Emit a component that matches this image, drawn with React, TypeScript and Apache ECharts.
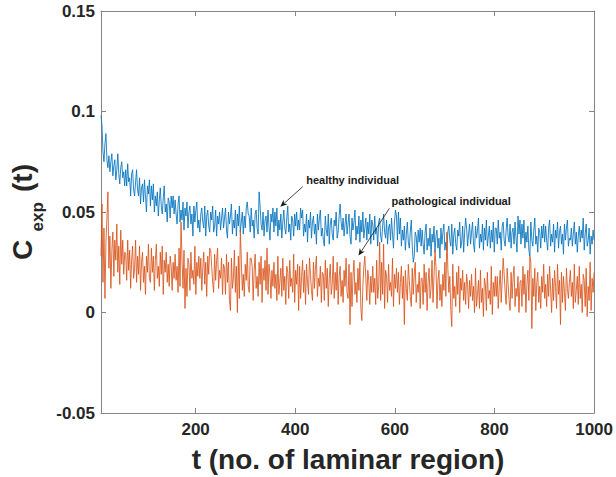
import React, { useEffect, useRef } from "react";
import * as echarts from "echarts";

// sample index range (t) and axis ticks
const T_FIRST = 10;
const T_LAST = 1000;
const X_TICKS = [200, 400, 600, 800, 1000];
const Y_MIN = -0.05;
const Y_MAX = 0.15;
const Y_STEP = 0.05;

// values are stored in units of 1e-3
const VALUE_UNIT = 0.001;

const healthyE3 = [
  98, 93, 80, 75, 84, 89, 76, 72, 78, 70, 75, 79, 68, 73, 76, 66, 71, 79, 69, 64, 72, 75, 67, 70, 63,
  71, 63, 74, 65, 67, 58, 69, 71, 61, 58, 65, 71, 61, 58, 67, 54, 62, 64, 55, 66, 58, 50, 63, 59, 66,
  53, 63, 56, 64, 50, 58, 53, 60, 48, 56, 62, 53, 49, 57, 63, 50, 54, 45, 57, 55, 47, 58, 52, 58, 49,
  56, 49, 44, 54, 58, 45, 51, 46, 55, 41, 52, 48, 55, 42, 50, 53, 44, 49, 38, 53, 45, 51, 55, 42, 46,
  40, 49, 52, 45, 42, 53, 38, 48, 51, 43, 40, 50, 46, 53, 40, 43, 51, 38, 48, 44, 50, 41, 47, 52, 42,
  47, 52, 41, 37, 50, 44, 48, 54, 39, 46, 42, 51, 38, 49, 43, 53, 40, 45, 50, 39, 48, 42, 52, 55, 49,
  48, 40, 52, 43, 46, 37, 49, 51, 42, 39, 60, 53, 44, 41, 50, 38, 46, 48, 40, 51, 43, 36, 49, 45, 52,
  40, 50, 43, 52, 38, 46, 41, 49, 37, 45, 51, 42, 39, 47, 53, 40, 44, 36, 48, 46, 38, 49, 43, 50, 41,
  46, 41, 52, 47, 51, 38, 44, 40, 49, 35, 46, 42, 50, 37, 45, 48, 39, 44, 34, 49, 41, 47, 51, 38, 42,
  36, 33, 48, 41, 38, 49, 34, 44, 47, 39, 36, 46, 43, 50, 37, 40, 48, 54, 45, 41, 47, 38, 44, 49, 39,
  44, 49, 38, 34, 47, 41, 45, 51, 36, 43, 39, 48, 35, 46, 40, 50, 37, 42, 47, 36, 45, 39, 49, 34, 46,
  44, 36, 48, 39, 42, 33, 45, 47, 38, 35, 43, 49, 40, 37, 46, 34, 42, 44, 36, 47, 39, 32, 45, 51, 48,
  36, 50, 39, 47, 33, 41, 36, 43, 31, 39, 45, 35, 32, 40, 46, 33, 25, 28, 40, 38, 30, 41, 35, 42, 33,
  41, 34, 29, 40, 44, 31, 37, 33, 42, 28, 39, 35, 43, 30, 38, 41, 32, 37, 27, 42, 34, 40, 44, 31, 35,
  31, 40, 43, 36, 33, 44, 29, 39, 42, 34, 31, 41, 38, 45, 32, 35, 43, 30, 40, 47, 42, 33, 39, 44, 34,
  40, 45, 34, 30, 43, 37, 41, 47, 32, 39, 35, 44, 31, 42, 36, 46, 33, 38, 43, 32, 41, 35, 45, 30, 42,
  42, 34, 46, 37, 40, 31, 43, 45, 36, 33, 41, 47, 38, 35, 44, 32, 40, 42, 34, 45, 37, 30, 48, 39, 46,
  34, 44, 37, 46, 32, 40, 35, 43, 31, 28, 45, 36, 33, 41, 47, 34, 38, 30, 42, 40, 32, 43, 37, 44, 35,
  43, 36, 31, 42, 46, 33, 39, 35, 44, 30, 41, 37, 45, 32, 40, 43, 34, 39, 29, 44, 36, 42, 46, 33, 37,
  36, 42, 33, 39, 45, 34, 40, 30, 38, 43, 35, 41, 37, 47, 31, 39, 44, 33, 36, 42, 29, 38, 34, 41, 36,
];

const pathologicalE3 = [
  28, 54, 15, 42, 7, 35, 47, 60, 22, 38, 12, 31, 40, 18, 36, 26, 44, 20, 33, 14, 41, 24, 36, 19, 30,
  29, 16, 36, 21, 31, 12, 26, 33, 17, 22, 36, 15, 28, 19, 33, 11, 25, 30, 15, 23, 9, 28, 20, 34, 17,
  15, 32, 20, 28, 11, 26, 34, 17, 23, 13, 30, 19, 33, 9, 26, 20, 30, 15, 24, 13, 28, 23, 11, 25, 17,
  29, 16, 23, 10, 32, 13, 45, 26, 12, 31, 2, 22, 8, 27, 24, 11, 30, 17, 21, 14, 33, 9, 25, 18, 28,
  17, 27, 11, 22, 30, 14, 25, 8, 28, 19, 32, 31, 23, 15, 10, 29, 16, 26, 32, 12, 21, 17, 27, 9, 24,
  22, 9, 29, 15, 25, 6, 1, 27, 12, 17, 31, 10, 23, 0, 28, 7, 41, 26, 11, 19, 8, 24, 16, 30, 13,
  10, 27, 27, 23, 6, 21, 29, 12, 18, 8, 25, 14, 28, 5, 22, 16, 26, 11, 32, 9, 24, 19, 7, 21, 13,
  25, 12, 19, 6, 28, 9, 15, 22, 8, 27, 11, 18, 4, 23, 20, 7, 26, 13, 17, 10, 29, 5, 21, 14, 24,
  1, 23, 7, 18, 26, 10, 21, 4, 24, 15, 9, 27, 19, 11, 6, 25, 12, 22, 28, 8, 17, 13, 23, 5, 20,
  19, 6, 26, 12, 22, 3, 17, 24, 9, 14, 28, 7, 20, 11, 25, 4, 18, 23, 8, 16, 5, 21, 13, 27, 10,
  7, 24, -6, 20, 3, 18, 26, 9, 15, 5, 22, 11, 25, 2, -4, 13, 23, 28, 17, 6, 21, 16, 4, 18, 10,
  23, 10, 17, 4, 26, 7, 13, 35, 6, 25, 9, 34, 2, 21, 18, 5, 24, 11, 15, 8, 27, 3, 19, 12, 22,
  10, 20, 4, 15, 23, 7, 18, -6, 21, 12, 6, 24, 16, 8, 3, 22, 9, 19, 25, 5, 14, 10, 20, 2, 17,
  17, 4, 24, 10, 20, 1, 15, 22, 7, 12, 26, 5, 18, 31, 23, 2, 16, 21, 6, 14, 3, 19, 11, 25, 8,
  40, 22, 10, 18, 1, -7, 24, 7, 13, 3, 20, 9, 23, 0, 17, 11, 21, 6, 15, 4, 19, 14, 2, 16, 8,
  19, 6, 13, 0, 22, 3, 9, 16, 2, 21, 5, 12, -2, 17, 14, 1, 20, 7, 11, 4, 23, -1, 15, 8, 18,
  8, 18, 2, 13, 21, 5, 16, 27, 19, 10, 4, 22, 14, 6, 1, 20, 7, 17, 23, 3, 12, 8, 18, 0, 15,
  16, 3, 23, 9, 19, 0, 14, 21, 6, 28, 25, -8, 17, 8, 22, 1, 15, 20, 5, 13, 2, 18, 10, 24, 7,
  14, 3, 19, 8, 23, 11, 0, 17, 6, 21, 13, 2, 24, 9, 16, -6, 20, 5, 18, 10, 1, 22, 12, 7, 15,
  21, 8, 15, 2, 24, 5, 11, 18, 4, 23, 7, 14, 0, 19, 16, 3, 22, -2, 13, 6, 25, 1, 17, 10, 20,
];

// annotations, anchored in data coordinates [t, value]
const annotationLabels = ["healthy individual", "pathological individual"];
const annotationTextAt = [[422, 0.0658], [593.5, 0.0554]];
const annotationArrowFrom = [[415, 0.0626], [589, 0.0518]];
const annotationArrowTo = [[370, 0.0526], [527, 0.0283]];

const FONT = '"Liberation Sans", Arial, Helvetica, sans-serif';
const TEXT_COLOR = "#262626";
const AXIS_COLOR = "#858585";

function toPairs(vals: number[]) {
  const n = vals.length;
  const step = (T_LAST - T_FIRST) / (n - 1);
  return vals.map((v, i) => [T_FIRST + i * step, v * VALUE_UNIT]);
}

export default function App() {
  const ref = useRef<HTMLDivElement>(null);

  useEffect(() => {
    const chart = echarts.init(ref.current!, null, { renderer: "svg" });
    const axisLine = { show: true, onZero: false, lineStyle: { color: AXIS_COLOR, width: 1 } };
    const tickStyle = { color: AXIS_COLOR, width: 1 };
    const labelStyle = { color: TEXT_COLOR, fontSize: 17, fontWeight: "bold" as const, fontFamily: FONT };

    chart.setOption({
      animation: false,
      backgroundColor: "#ffffff",
      grid: { left: 101, right: 21, top: 11, bottom: 64 },
      xAxis: [
        {
          type: "value",
          min: T_FIRST,
          max: T_LAST,
          position: "bottom",
          axisLine,
          axisTick: { show: true, inside: true, length: 5, lineStyle: tickStyle, customValues: X_TICKS },
          axisLabel: { ...labelStyle, margin: 8, customValues: X_TICKS, formatter: (v: number) => String(v) },
          splitLine: { show: false },
        },
        {
          type: "value",
          min: T_FIRST,
          max: T_LAST,
          position: "top",
          axisLine,
          axisTick: { show: true, inside: true, length: 5, lineStyle: tickStyle, customValues: X_TICKS },
          axisLabel: { show: false },
          splitLine: { show: false },
        },
      ],
      yAxis: [
        {
          type: "value",
          min: Y_MIN,
          max: Y_MAX,
          interval: Y_STEP,
          position: "left",
          axisLine,
          axisTick: { show: true, inside: true, length: 5, lineStyle: tickStyle },
          axisLabel: {
            ...labelStyle,
            margin: 6,
            formatter: (v: number) => String(parseFloat(v.toFixed(3))),
          },
          splitLine: { show: false },
        },
        {
          type: "value",
          min: Y_MIN,
          max: Y_MAX,
          interval: Y_STEP,
          position: "right",
          axisLine,
          axisTick: { show: true, inside: true, length: 5, lineStyle: tickStyle },
          axisLabel: { show: false },
          splitLine: { show: false },
        },
      ],
      series: [
        {
          name: "healthy individual",
          type: "line",
          xAxisIndex: 0,
          yAxisIndex: 0,
          data: toPairs(healthyE3),
          showSymbol: false,
          lineStyle: { color: "#0072BD", width: 0.85 },
          itemStyle: { color: "#0072BD" },
        },
        {
          name: "pathological individual",
          type: "line",
          xAxisIndex: 0,
          yAxisIndex: 0,
          data: toPairs(pathologicalE3),
          showSymbol: false,
          lineStyle: { color: "#D95319", width: 0.85 },
          itemStyle: { color: "#D95319" },
        },
      ],
    });

    const px = (p: number[]) => chart.convertToPixel({ xAxisIndex: 0, yAxisIndex: 0 }, p) as number[];
    const graphics: any[] = [];

    annotationLabels.forEach((label, i) => {
      const tp = px(annotationTextAt[i]);
      const a = px(annotationArrowFrom[i]);
      const b = px(annotationArrowTo[i]);
      const dx = b[0] - a[0];
      const dy = b[1] - a[1];
      const len = Math.hypot(dx, dy);
      const ux = dx / len;
      const uy = dy / len;
      const nx = -uy;
      const ny = ux;
      const hl = 7;
      const hw = 3;
      graphics.push({
        type: "text",
        x: tp[0],
        y: tp[1],
        style: {
          text: label,
          font: `bold 11px ${FONT}`,
          fill: "#1a1a1a",
          textAlign: "left",
          textVerticalAlign: "middle",
          align: "left",
          verticalAlign: "middle",
        },
        z: 100,
      });
      graphics.push({
        type: "line",
        shape: { x1: a[0], y1: a[1], x2: b[0] - ux * 4, y2: b[1] - uy * 4 },
        style: { stroke: "#1a1a1a", lineWidth: 0.8 },
        z: 100,
      });
      graphics.push({
        type: "polygon",
        shape: {
          points: [
            [b[0], b[1]],
            [b[0] - ux * hl + nx * hw, b[1] - uy * hl + ny * hw],
            [b[0] - ux * (hl - 2), b[1] - uy * (hl - 2)],
            [b[0] - ux * hl - nx * hw, b[1] - uy * hl - ny * hw],
          ],
        },
        style: { fill: "#1a1a1a" },
        z: 100,
      });
    });

    // axis titles
    const bigFont = `bold 28px ${FONT}`;
    graphics.push({
      type: "text",
      x: 348,
      y: 459,
      style: {
        text: "t (no. of laminar region)",
        font: bigFont,
        fill: TEXT_COLOR,
        textAlign: "center",
        textVerticalAlign: "middle",
        align: "center",
        verticalAlign: "middle",
      },
    });
    const yTitleParts = [
      { text: "C", font: bigFont, x: 22.7, y: 260 },
      { text: "exp", font: `bold 17px ${FONT}`, x: 37.5, y: 231.5 },
      { text: "(t)", font: bigFont, x: 22.7, y: 192 },
    ];
    yTitleParts.forEach((p) => {
      graphics.push({
        type: "text",
        x: p.x,
        y: p.y,
        rotation: Math.PI / 2,
        style: {
          text: p.text,
          font: p.font,
          fill: TEXT_COLOR,
          textAlign: "left",
          textVerticalAlign: "middle",
          align: "left",
          verticalAlign: "middle",
        },
      });
    });

    chart.setOption({ graphic: graphics });

    return () => chart.dispose();
  }, []);

  return (
    <div
      ref={ref}
      style={{ position: "fixed", left: 0, top: 0, width: 616, height: 477, background: "#fff" }}
    />
  );
}
